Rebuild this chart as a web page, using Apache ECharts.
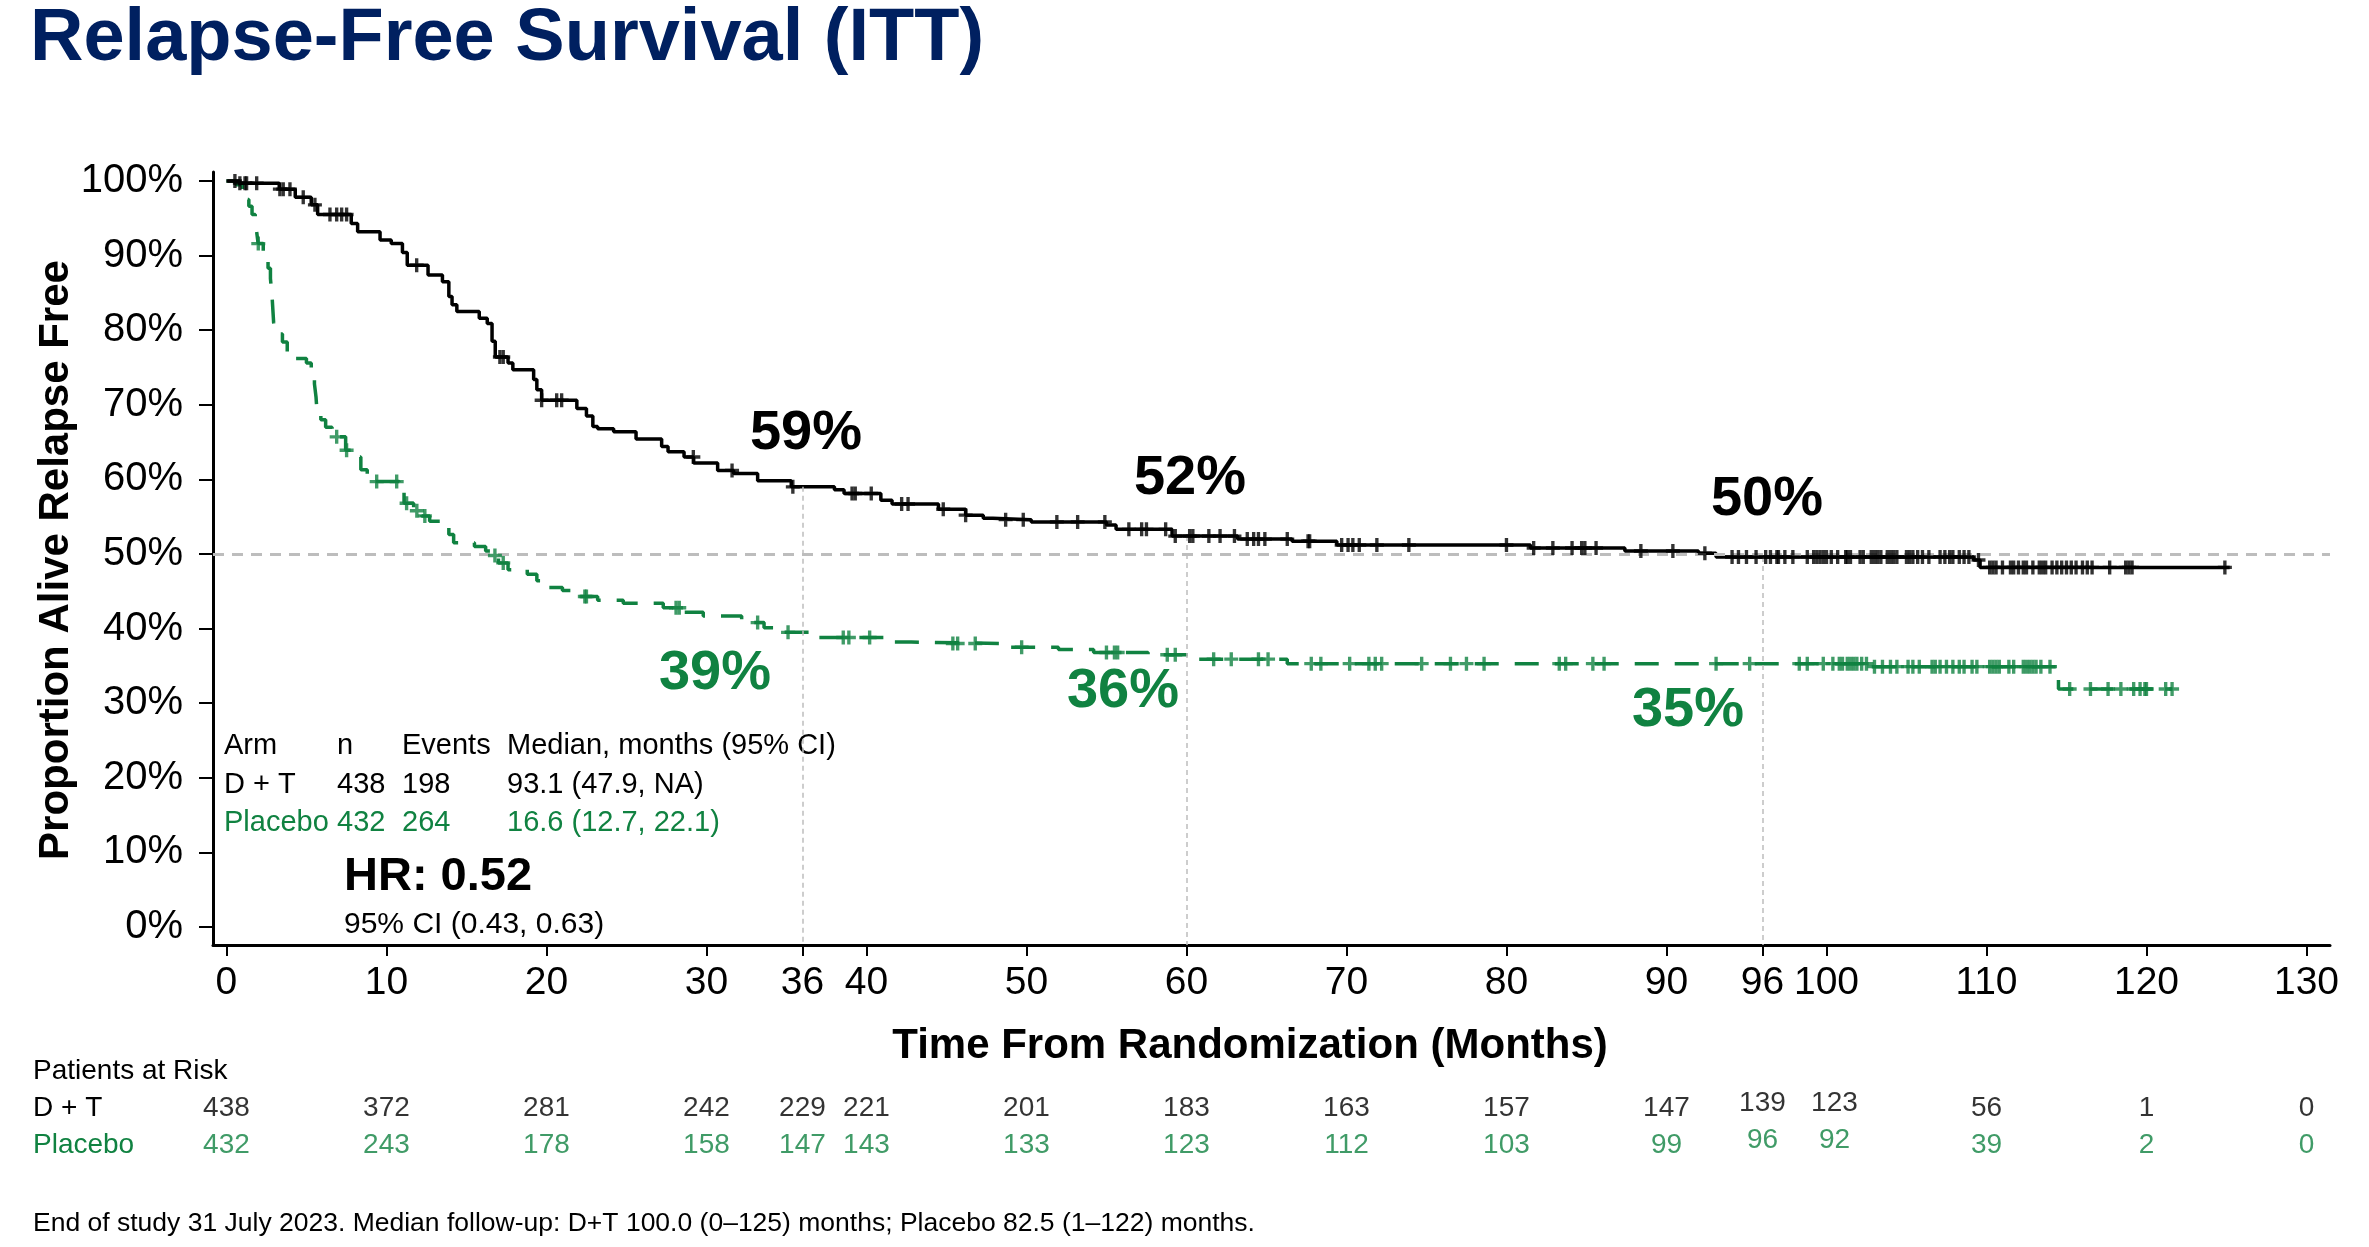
<!DOCTYPE html>
<html><head><meta charset="utf-8">
<script src="https://cdn.jsdelivr.net/npm/echarts@6/dist/echarts.min.js"></script>
<style>html,body{margin:0;padding:0;background:#fff}#c{width:2369px;height:1247px}</style>
</head><body><div id="c"></div>
<script>
// ---------- DATA ----------
const title = 'Relapse-Free Survival (ITT)';
const xTickValues = [0, 10, 20, 30, 36, 40, 50, 60, 70, 80, 90, 96, 100, 110, 120, 130];
const yTickValues = [0, 10, 20, 30, 40, 50, 60, 70, 80, 90, 100];
const landmarkTimes = [36, 60, 96];

// D+T Kaplan-Meier steps (months, % relapse free)
const dtTime = [0, 0.8, 3.3, 4.3, 5.3, 5.7, 7.8, 8.2, 9.6, 10.3, 11.0, 11.3, 12.6, 13.5, 13.9, 14.1, 14.4, 15.8, 16.3, 16.6, 16.8, 17.6, 17.9, 19.2, 19.4, 19.7, 21.9, 22.5, 22.9, 23.2, 24.2, 25.6, 27.2, 27.6, 28.6, 29.2, 30.7, 31.7, 33.2, 35.3, 38.0, 38.6, 40.9, 41.6, 44.5, 46.2, 47.3, 47.9, 50.3, 55.0, 55.6, 59.1, 63.2, 66.6, 69.4, 81.5, 87.4, 92.0, 93.1, 109.2, 109.6, 125.2];
const dtSurv = [100, 99.7, 98.9, 97.8, 96.8, 95.5, 94.3, 93.2, 92.1, 91.6, 90.4, 88.7, 87.4, 86.5, 84.5, 83.4, 82.5, 81.6, 80.9, 78.5, 76.4, 75.6, 74.7, 73.4, 72.0, 70.6, 69.5, 68.5, 67.1, 66.8, 66.4, 65.4, 64.4, 63.7, 63.0, 62.2, 61.2, 60.8, 59.8, 59.0, 58.6, 58.1, 57.2, 56.7, 56.0, 55.2, 54.8, 54.6, 54.3, 53.9, 53.3, 52.4, 52.0, 51.7, 51.2, 50.8, 50.4, 50.1, 49.6, 49.2, 48.2, 48.2];
const dtCensor = [0.53, 0.84, 1.16, 1.26, 1.89, 3.34, 3.55, 3.97, 4.8, 5.53, 6.47, 6.89, 7.2, 7.51, 11.89, 17.09, 17.3, 19.7, 20.64, 20.95, 29.18, 31.6, 35.4, 39.1, 39.3, 40.3, 42.2, 42.6, 44.8, 46.2, 48.7, 49.8, 51.9, 53.2, 54.9, 56.4, 57.2, 57.5, 58.7, 59.3, 60.2, 60.4, 61.4, 62.1, 63.0, 63.8, 64.2, 64.5, 64.9, 66.3, 67.6, 67.7, 69.7, 70.1, 70.4, 70.8, 71.9, 73.9, 80.0, 81.7, 82.9, 84.1, 84.7, 84.9, 85.6, 88.4, 90.4, 92.4, 94.1, 94.5, 95.0, 95.6, 96.2, 96.5, 96.9, 97.0, 97.4, 97.9, 98.8, 99.2, 99.4, 99.6, 99.8, 100.0, 100.3, 100.7, 101.2, 101.3, 101.5, 102.1, 102.3, 102.8, 103.0, 103.2, 103.4, 103.8, 104.0, 104.2, 104.4, 105.0, 105.2, 105.4, 105.7, 106.0, 106.4, 107.1, 107.4, 107.7, 107.9, 108.3, 108.6, 108.9, 109.5, 110.2, 110.4, 110.6, 111.0, 111.5, 111.7, 112.0, 112.3, 112.5, 112.9, 113.3, 113.5, 113.7, 114.1, 114.4, 114.7, 115.0, 115.3, 115.6, 116.0, 116.3, 116.6, 117.7, 118.7, 118.9, 119.1, 124.9];

// Placebo Kaplan-Meier steps
const pbTime = [0, 0.6, 1.0, 1.2, 1.4, 1.6, 1.8, 1.9, 1.98, 2.3, 2.45, 2.6, 2.75, 2.85, 2.9, 2.95, 3.05, 3.5, 3.8, 4.3, 5.0, 5.3, 5.5, 5.6, 5.65, 5.9, 6.2, 6.6, 6.85, 7.45, 8.1, 8.4, 8.8, 9.1, 10.8, 11.1, 11.7, 12.2, 12.7, 13.6, 13.9, 14.2, 15.5, 16.2, 16.6, 17.0, 17.6, 18.8, 19.4, 20.0, 21.0, 22.0, 23.2, 24.8, 27.3, 28.6, 29.8, 32.2, 33.6, 34.6, 37.0, 41.4, 42.8, 48.6, 52.0, 54.2, 57.6, 60.5, 66.3, 102.7, 114.5, 121.6];
const pbSurv = [100, 99.5, 98.3, 97.5, 96.6, 95.5, 94.3, 93.0, 91.6, 90.6, 89.6, 88.3, 86.9, 84.6, 82.8, 81.0, 79.5, 78.4, 77.0, 76.2, 75.6, 74.6, 72.8, 71.0, 69.4, 68.0, 67.0, 66.3, 65.7, 63.9, 63.0, 61.3, 60.4, 59.7, 59.2, 56.8, 55.8, 55.1, 54.4, 53.6, 52.6, 51.5, 51.0, 50.4, 49.8, 48.8, 47.9, 47.3, 46.4, 45.5, 45.1, 44.3, 43.8, 43.4, 42.8, 42.2, 41.7, 40.8, 40.1, 39.5, 38.8, 38.2, 38.0, 37.5, 37.2, 36.8, 36.5, 35.9, 35.3, 34.9, 31.9, 31.9];
const pbCensor = [1.99, 6.89, 7.51, 9.39, 10.64, 11.26, 11.9, 12.4, 16.78, 17.3, 22.4, 22.5, 28.1, 28.3, 33.2, 35.1, 38.55, 38.9, 40.2, 45.4, 45.7, 46.8, 49.7, 55.0, 55.5, 55.7, 58.8, 59.3, 61.7, 62.8, 64.5, 65.1, 67.8, 68.4, 70.2, 71.4, 71.8, 72.2, 74.7, 76.5, 77.5, 78.6, 83.3, 83.7, 85.4, 86.1, 93.1, 95.2, 98.3, 98.8, 99.8, 100.4, 100.8, 101.0, 101.3, 101.5, 101.7, 101.9, 102.2, 102.5, 103.0, 103.5, 104.0, 104.4, 105.1, 105.4, 105.8, 106.6, 106.8, 107.1, 107.5, 107.9, 108.3, 108.6, 109.1, 109.4, 110.2, 110.4, 110.6, 110.8, 111.4, 111.7, 112.3, 112.5, 112.7, 112.9, 113.1, 113.4, 113.97, 115.2, 116.5, 117.6, 118.4, 119.2, 119.6, 119.9, 120.0, 121.2, 121.6];

// Landmark annotations
const dtLandmarkText = ['59%', '52%', '50%'];
const pbLandmarkText = ['39%', '36%', '35%'];

// Summary table
const tableHeader = ['Arm', 'n', 'Events', 'Median, months (95% CI)'];
const tableDT = ['D + T', '438', '198', '93.1 (47.9, NA)'];
const tablePB = ['Placebo', '432', '264', '16.6 (12.7, 22.1)'];
const hrText = 'HR: 0.52';
const hrCIText = '95% CI (0.43, 0.63)';

// Patients at risk
const riskTimes = [0, 10, 20, 30, 36, 40, 50, 60, 70, 80, 90, 96, 100, 110, 120, 130];
const riskDT = [438, 372, 281, 242, 229, 221, 201, 183, 163, 157, 147, 139, 123, 56, 1, 0];
const riskPB = [432, 243, 178, 158, 147, 143, 133, 123, 112, 103, 99, 96, 92, 39, 2, 0];
const riskRows = ['D + T', 'Placebo'];
const footnote = 'End of study 31 July 2023. Median follow-up: D+T 100.0 (0\u2013125) months; Placebo 82.5 (1\u2013122) months.';

// ---------- STYLE ----------
const FONT = '"Liberation Sans", Arial, Helvetica, sans-serif';
const BLACK = '#000000', GREEN = '#108241', GREY = '#bdbdbd', NAVY = '#002060';
const X_MIN = -0.84, X_MAX = 131.47, Y_MIN = -2.41, Y_MAX = 101.2;
const GRID = { left: 213, top: 172, width: 2117, height: 773 };
const riskOffset = { 96: [0, -5], 100: [8, -5] };
const PLUS = 'path://M3.8,0L6.2,0L6.2,3.8L10,3.8L10,6.2L6.2,6.2L6.2,10L3.8,10L3.8,6.2L0,6.2L0,3.8L3.8,3.8Z';

function survAt(times, surv, t) {
  let v = surv[0];
  for (let i = 0; i < times.length; i++) { if (times[i] <= t) v = surv[i]; }
  return v;
}
const dtData = dtTime.map((t, i) => [t, dtSurv[i]]);
const pbData = pbTime.map((t, i) => [t, pbSurv[i]]);
const dtCens = dtCensor.map(t => [t, survAt(dtTime, dtSurv, t)]);
const pbCens = pbCensor.map(t => [t, survAt(pbTime, pbSurv, t)]);

const vLines = landmarkTimes.map(t => [
  { coord: [t, survAt(dtTime, dtSurv, t)] }, { coord: [t, Y_MIN] }
]);

function riskData(vals, row) {
  return riskTimes.map((t, i) => ({
    value: [t, row, vals[i]],
    label: riskOffset[t] ? { offset: riskOffset[t] } : undefined
  }));
}

function txt(text, x, y, size, color, opts) {
  opts = opts || {};
  return {
    type: 'text', x: x, y: y, rotation: opts.rotation || 0, silent: true,
    style: {
      text: text, fill: color, fontSize: size, fontFamily: FONT,
      fontWeight: opts.bold ? 'bold' : 'normal',
      align: opts.align || 'left', verticalAlign: 'middle'
    }
  };
}

const colX = [224, 337, 402, 507];
const graphics = [
  txt(title, 30, 40, 74, NAVY, { bold: true }),
  txt('Proportion Alive Relapse Free', 56, 560, 42, BLACK, { bold: true, align: 'center', rotation: Math.PI / 2 }),
  txt('Time From Randomization (Months)', 1250, 1046, 42, BLACK, { bold: true, align: 'center' }),
  txt(dtLandmarkText[0], 806, 434, 56, BLACK, { bold: true, align: 'center' }),
  txt(dtLandmarkText[1], 1190, 479, 56, BLACK, { bold: true, align: 'center' }),
  txt(dtLandmarkText[2], 1767, 500, 56, BLACK, { bold: true, align: 'center' }),
  txt(pbLandmarkText[0], 715, 674, 56, GREEN, { bold: true, align: 'center' }),
  txt(pbLandmarkText[1], 1123, 692, 56, GREEN, { bold: true, align: 'center' }),
  txt(pbLandmarkText[2], 1688, 711, 56, GREEN, { bold: true, align: 'center' }),
  txt(hrText, 344, 877, 47, BLACK, { bold: true }),
  txt(hrCIText, 344, 925, 30, BLACK),
  txt('Patients at Risk', 33, 1071, 28, BLACK),
  txt(riskRows[0], 33, 1108, 28, BLACK),
  txt(riskRows[1], 33, 1145, 28, GREEN),
  txt(footnote, 33, 1224, 26.5, BLACK)
];
tableHeader.forEach((s, i) => graphics.push(txt(s, colX[i], 746, 29, BLACK)));
tableDT.forEach((s, i) => graphics.push(txt(s, colX[i], 785, 29, BLACK)));
tablePB.forEach((s, i) => graphics.push(txt(s, colX[i], 823, 29, GREEN)));

const chart = echarts.init(document.getElementById('c'), null, { renderer: 'canvas' });
chart.setOption({
  animation: false,
  backgroundColor: '#ffffff',
  grid: [
    Object.assign({ containLabel: false, outerBoundsMode: 'none' }, GRID),
    { left: GRID.left, width: GRID.width, top: 1090, height: 74, containLabel: false, outerBoundsMode: 'none' }
  ],
  xAxis: [{
    type: 'value', gridIndex: 0, min: X_MIN, max: X_MAX,
    axisLine: { show: true, onZero: false, lineStyle: { color: BLACK, width: 3 } },
    axisTick: { show: true, length: 11, lineStyle: { color: BLACK, width: 2 }, customValues: xTickValues },
    axisLabel: { show: true, customValues: xTickValues, margin: 19, color: BLACK, fontSize: 39, fontFamily: FONT },
    splitLine: { show: false }
  }, {
    type: 'value', gridIndex: 1, min: X_MIN, max: X_MAX, show: false
  }],
  yAxis: [{
    type: 'value', gridIndex: 0, min: Y_MIN, max: Y_MAX,
    axisLine: { show: true, onZero: false, lineStyle: { color: BLACK, width: 3 } },
    axisTick: { show: true, length: 14, lineStyle: { color: BLACK, width: 2 }, customValues: yTickValues },
    axisLabel: { show: true, customValues: yTickValues, margin: 30, color: BLACK, fontSize: 40, fontFamily: FONT, formatter: v => v + '%' },
    splitLine: { show: false }
  }, {
    type: 'category', gridIndex: 1, data: riskRows, inverse: true, show: false
  }],
  graphic: graphics,
  series: [
    {
      name: 'D + T', type: 'line', xAxisIndex: 0, yAxisIndex: 0, data: dtData, step: 'end',
      symbol: 'none', z: 4, lineStyle: { color: BLACK, width: 3.5 },
      markLine: {
        silent: true, symbol: 'none', label: { show: false },
        lineStyle: { color: GREY, width: 1.5, type: [5, 4] },
        data: vLines.concat([{ yAxis: 50, lineStyle: { color: GREY, width: 3, type: [11, 8] } }])
      }
    },
    {
      name: 'Placebo', type: 'line', xAxisIndex: 0, yAxisIndex: 0, data: pbData, step: 'end',
      symbol: 'none', z: 3, lineStyle: { color: GREEN, width: 3.5, type: [24, 16] }
    },
    {
      name: 'D + T censored', type: 'scatter', xAxisIndex: 0, yAxisIndex: 0, data: dtCens,
      symbol: PLUS, symbolSize: 14, z: 5, itemStyle: { color: BLACK }
    },
    {
      name: 'Placebo censored', type: 'scatter', xAxisIndex: 0, yAxisIndex: 0, data: pbCens,
      symbol: PLUS, symbolSize: 14, z: 5, itemStyle: { color: GREEN }
    },
    {
      name: 'At risk D + T', type: 'scatter', xAxisIndex: 1, yAxisIndex: 1, data: riskData(riskDT, riskRows[0]),
      symbolSize: 1, itemStyle: { color: 'rgba(0,0,0,0)' },
      label: { show: true, position: 'inside', formatter: p => p.value[2], color: BLACK, fontSize: 28, fontFamily: FONT }
    },
    {
      name: 'At risk Placebo', type: 'scatter', xAxisIndex: 1, yAxisIndex: 1, data: riskData(riskPB, riskRows[1]),
      symbolSize: 1, itemStyle: { color: 'rgba(0,0,0,0)' },
      label: { show: true, position: 'inside', formatter: p => p.value[2], color: GREEN, fontSize: 28, fontFamily: FONT }
    }
  ]
});
</script></body></html>
